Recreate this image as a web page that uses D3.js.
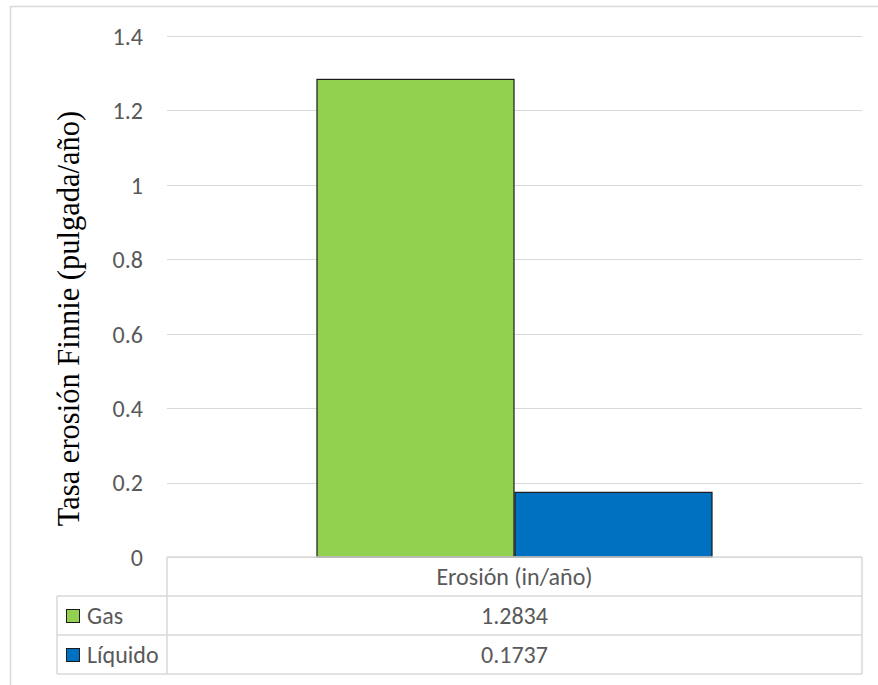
<!DOCTYPE html>
<html>
<head>
<meta charset="utf-8">
<script src="https://cdn.jsdelivr.net/npm/d3@7"></script>
<style>
  html, body { margin: 0; padding: 0; background: #fff; }
  svg { display: block; }
  .tick text, .tbl { font-family: Carlito, Calibri, "Open Sans", sans-serif; fill: #595959; }
</style>
</head>
<body>
<svg id="chart" width="878" height="685"></svg>
<script>
// Categories and series
const categories = ["Erosión (in/año)"];
const seriesNames = ["Gas", "Líquido"];
const gasValues = [1.2834];
const liquidValues = [0.1737];
const seriesColors = ["#92D050", "#0070C0"];
const yTicks = [0, 0.2, 0.4, 0.6, 0.8, 1, 1.2, 1.4];
const yTitle = "Tasa erosión Finnie (pulgada/año)";

const seriesValues = [gasValues, liquidValues];

const svg = d3.select("#chart");
const fs = 24;

// Outer chart frame
svg.append("rect")
  .attr("x", 10.5).attr("y", 6.5)
  .attr("width", 880).attr("height", 700)
  .attr("fill", "#fff").attr("stroke", "#d9d9d9").attr("stroke-width", 1.5);

const plot = { left: 167, right: 862, top: 36, bottom: 557 };

const y = d3.scaleLinear().domain([0, 1.4]).range([plot.bottom, plot.top]);

const x0 = d3.scaleBand().domain(categories)
  .range([plot.left, plot.right])
  .paddingInner(0).paddingOuter(0.3775);

const x1 = d3.scaleBand().domain(seriesNames)
  .range([0, x0.bandwidth()]).padding(0);

// Gridlines
svg.append("g")
  .selectAll("line").data(yTicks).join("line")
  .attr("x1", plot.left).attr("x2", plot.right)
  .attr("y1", d => Math.round(y(d)) + 0.5).attr("y2", d => Math.round(y(d)) + 0.5)
  .attr("stroke", "#d9d9d9").attr("stroke-width", 1);

// Y axis labels
const yAxis = svg.append("g")
  .attr("transform", `translate(${plot.left},0)`)
  .call(d3.axisLeft(y).tickValues(yTicks).tickSize(0).tickPadding(24)
    .tickFormat(d => String(d)));
yAxis.select(".domain").remove();
yAxis.selectAll(".tick text").attr("font-size", fs).attr("dy", "0.35em");

// Bars
const groups = svg.append("g").selectAll("g").data(categories).join("g")
  .attr("transform", d => `translate(${x0(d)},0)`);

seriesNames.forEach((s, si) => {
  groups.append("rect")
    .attr("x", x1(s) + 0.5)
    .attr("y", (d, ci) => y(seriesValues[si][ci]))
    .attr("width", x1.bandwidth() - 1)
    .attr("height", (d, ci) => y(0) - y(seriesValues[si][ci]))
    .attr("fill", seriesColors[si])
    .attr("stroke", "#1a1a1a").attr("stroke-width", 1.2);
});

// Y axis title
svg.append("text")
  .attr("transform", `translate(68,${(110 + 527) / 2}) rotate(-90)`)
  .attr("text-anchor", "middle")
  .attr("dy", "0.35em")
  .attr("font-family", "'Liberation Serif', 'Times New Roman', serif")
  .attr("font-size", 30.5)
  .attr("fill", "#000")
  .text(yTitle);

// Data table below the plot
const rowH = 39;
const tblLeft = 57;
const headerTop = plot.bottom;
const rowTops = [headerTop, headerTop + rowH, headerTop + 2 * rowH];
const tblBottom = headerTop + 3 * rowH;
const grid = svg.append("g").attr("stroke", "#d9d9d9").attr("stroke-width", 1.5).attr("fill", "none");

// horizontal lines
grid.append("line").attr("x1", plot.left).attr("x2", plot.right).attr("y1", headerTop).attr("y2", headerTop);
[rowTops[1], rowTops[2], tblBottom].forEach(yy => {
  grid.append("line").attr("x1", tblLeft).attr("x2", plot.right).attr("y1", yy).attr("y2", yy);
});
// vertical lines
grid.append("line").attr("x1", tblLeft).attr("x2", tblLeft).attr("y1", rowTops[1]).attr("y2", tblBottom);
grid.append("line").attr("x1", plot.left).attr("x2", plot.left).attr("y1", headerTop).attr("y2", tblBottom);
grid.append("line").attr("x1", plot.right).attr("x2", plot.right).attr("y1", headerTop).attr("y2", tblBottom);

// header row
svg.append("g").selectAll("text").data(categories).join("text")
  .attr("class", "tbl")
  .attr("x", d => x0(d) + x0.bandwidth() / 2)
  .attr("y", headerTop + rowH / 2)
  .attr("dy", "0.35em")
  .attr("text-anchor", "middle")
  .attr("font-size", fs)
  .text(d => d);

// series rows: legend key, name, values
seriesNames.forEach((s, si) => {
  const top = rowTops[si + 1];
  const g = svg.append("g");
  g.append("rect")
    .attr("x", 66.5).attr("y", top + 13.5)
    .attr("width", 13).attr("height", 13)
    .attr("fill", seriesColors[si])
    .attr("stroke", "#1a1a1a").attr("stroke-width", 1);
  g.append("text").attr("class", "tbl")
    .attr("x", 87).attr("y", top + rowH / 2).attr("dy", "0.35em")
    .attr("font-size", fs).text(s);
  g.selectAll("text.val").data(categories).join("text")
    .attr("class", "tbl val")
    .attr("x", d => x0(d) + x0.bandwidth() / 2)
    .attr("y", top + rowH / 2).attr("dy", "0.35em")
    .attr("text-anchor", "middle")
    .attr("font-size", fs)
    .text((d, ci) => String(seriesValues[si][ci]));
});
</script>
</body>
</html>
